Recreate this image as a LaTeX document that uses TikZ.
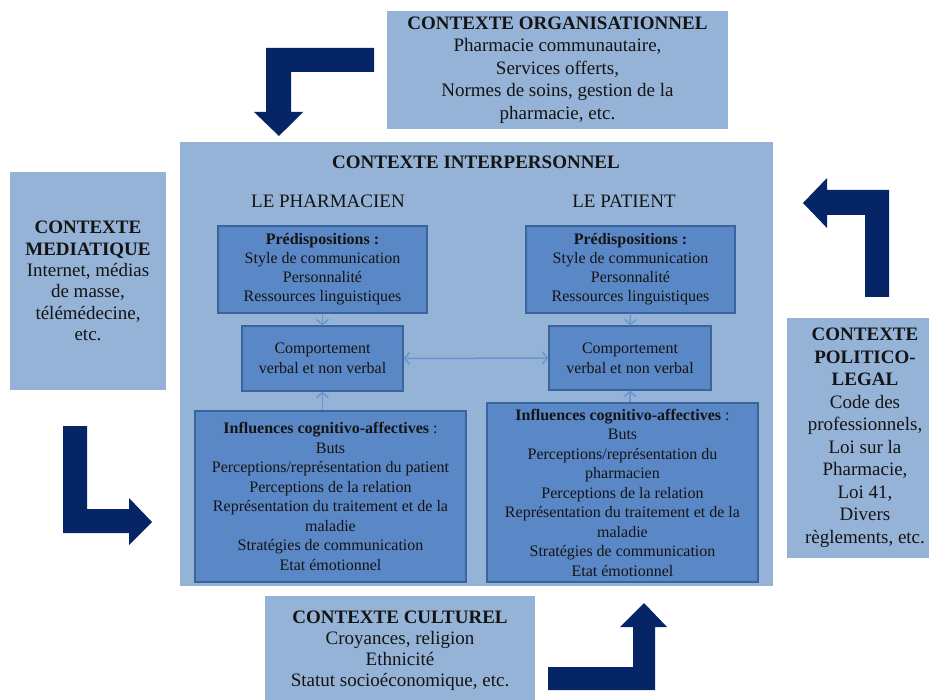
\documentclass[tikz,border=0pt]{standalone}
\usepackage{fontspec}
\setmainfont{Liberation Serif}
\usetikzlibrary{arrows.meta}
\definecolor{outerblue}{HTML}{95B3D7}
\definecolor{innerblue}{HTML}{5A87C5}
\definecolor{innerline}{HTML}{3A659C}
\definecolor{navyarrow}{HTML}{062567}
\definecolor{connblue}{HTML}{6A95D0}
\definecolor{txt}{HTML}{141414}
\begin{document}
\begin{tikzpicture}[x=1pt,y=-1pt,
  outerbox/.style={fill=outerblue, draw=none, inner sep=0pt, align=center, text=txt, font=\fontsize{19}{22.5}\selectfont},
  innerbox/.style={fill=innerblue, draw=innerline, line width=1.2pt, inner sep=0pt, align=center, text=txt, font=\fontsize{16}{19}\selectfont},
  labeltext/.style={inner sep=0pt, text=txt, font=\fontsize{19}{22}\selectfont},
  conn/.style={draw=connblue, line width=1.5pt},
  tipend/.style={-{Straight Barb[length=5pt,width=12pt]}},
  bigarrow/.style={fill=navyarrow, draw=none}]
\useasboundingbox (0,0) rectangle (929,700);
\clip (0,0) rectangle (929,700);
\fill[white] (0,0) rectangle (929,700);

% outer context boxes
\node[outerbox, minimum width=341pt, minimum height=118pt] (org) at (557.5,70)
  {\textbf{CONTEXTE ORGANISATIONNEL}\\Pharmacie communautaire,\\Services offerts,\\Normes de soins, gestion de la\\pharmacie, etc.};
\node[outerbox, minimum width=156pt, minimum height=218pt, font=\fontsize{19}{21.3}\selectfont] (med) at (88,281)
  {\textbf{CONTEXTE}\\\textbf{MEDIATIQUE}\\Internet, médias\\de masse,\\télémédecine,\\etc.};
\node[outerbox, minimum width=156pt, minimum height=240pt] (pol) at (865,438)
  {\textbf{CONTEXTE}\\\textbf{POLITICO-}\\\textbf{LEGAL}\\Code des\\professionnels,\\Loi sur la\\Pharmacie,\\Loi 41,\\Divers\\règlements, etc.};
\node[outerbox, minimum width=270pt, minimum height=110pt, font=\fontsize{19}{21}\selectfont] (cult) at (400,651)
  {\textbf{CONTEXTE CULTUREL}\\Croyances, religion\\Ethnicité\\Statut socioéconomique, etc.};

% interpersonal context
\node[fill=outerblue, draw=none, inner sep=0pt, minimum width=593pt, minimum height=444pt] (inter) at (476.5,364) {};
\node[labeltext] (intertitle) at (476,162) {\textbf{CONTEXTE INTERPERSONNEL}};
\node[labeltext] (pharm) at (328,201) {LE PHARMACIEN};
\node[labeltext] (pat) at (624,201) {LE PATIENT};

\node[innerbox, minimum width=209pt, minimum height=87pt] (predL) at (322.5,269.5)
  {\textbf{Prédispositions :}\\Style de communication\\Personnalité\\Ressources linguistiques};
\node[innerbox, minimum width=161pt, minimum height=65pt, font=\fontsize{16}{20}\selectfont] (compL) at (322.5,358.5)
  {Comportement\\verbal et non verbal};
\node[innerbox, minimum width=271pt, minimum height=171pt, font=\fontsize{16}{19.5}\selectfont] (inflL) at (330.5,496.5)
  {\textbf{Influences cognitivo-affectives} :\\Buts\\Perceptions/représentation du patient\\Perceptions de la relation\\Représentation du traitement et de la\\maladie\\Stratégies de communication\\Etat émotionnel};

\node[innerbox, minimum width=209pt, minimum height=87pt] (predR) at (630.5,269.5)
  {\textbf{Prédispositions :}\\Style de communication\\Personnalité\\Ressources linguistiques};
\node[innerbox, minimum width=162pt, minimum height=64pt, font=\fontsize{16}{20}\selectfont] (compR) at (630,358)
  {Comportement\\verbal et non verbal};
\node[innerbox, minimum width=271pt, minimum height=179pt, font=\fontsize{16}{19.5}\selectfont] (inflR) at (622.5,492.5)
  {\textbf{Influences cognitivo-affectives} :\\Buts\\Perceptions/représentation du\\pharmacien\\Perceptions de la relation\\Représentation du traitement et de la\\maladie\\Stratégies de communication\\Etat émotionnel};

% thin connectors
\draw[conn, tipend] (predL.south) -- (compL.north);
\draw[conn, tipend] (inflL.north -| compL.south) -- (compL.south);
\draw[conn, tipend] (predR.south) -- (compR.north);
\draw[conn, tipend] (inflR.north -| compR.south) -- (compR.south);
\draw[conn, {Straight Barb[length=5pt,width=12pt]}-{Straight Barb[length=5pt,width=12pt]}] (compL.east) -- (compR.west);

% big navy arrows
\fill[bigarrow] (374,48) -- (266,48) -- (266,112) -- (254,112) -- (279,136) -- (303,112) -- (291,112) -- (291,72) -- (374,72) -- cycle;
\fill[bigarrow] (63,426) -- (87,426) -- (87,509) -- (129,509) -- (129,498) -- (152,522) -- (129,545) -- (129,533) -- (63,533) -- cycle;
\fill[bigarrow] (889,297) -- (865,297) -- (865,215) -- (827,215) -- (827,228) -- (803,203) -- (827,178) -- (827,190) -- (889,190) -- cycle;
\fill[bigarrow] (548,690) -- (548,667) -- (633,667) -- (633,627) -- (620,627) -- (644,603) -- (667,627) -- (655,627) -- (655,690) -- cycle;
\end{tikzpicture}
\end{document}
